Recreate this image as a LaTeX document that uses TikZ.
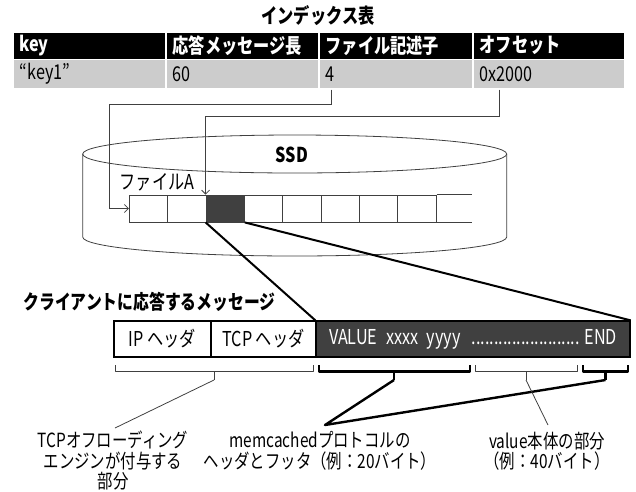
\documentclass[tikz,border=0pt]{standalone}
\usepackage{fontspec}
\setmainfont{Noto Sans CJK JP}[FakeStretch=0.79]
\usetikzlibrary{calc,arrows.meta}
\definecolor{dk}{HTML}{404040}
\definecolor{lg}{HTML}{CCCCCC}
\begin{document}
\begin{tikzpicture}[x=1pt,y=-1pt,
  every node/.style={font=\fontsize{20.5}{22}\selectfont},
  bfnt/.style={font=\fontsize{20.5}{22}\selectfont\bfseries},
  hcell/.style={draw=white, line width=1.5pt, fill=black, text=white, bfnt,
    minimum height=27.5pt, inner xsep=7pt, inner ysep=0pt, anchor=north west, align=left},
  dcell/.style={draw=white, line width=1.5pt, fill=lg, text=black,
    minimum height=29.5pt, inner xsep=7pt, inner ysep=0pt, anchor=north west, align=left},
  cyl/.style={draw=dk, line width=0.8pt},
  scell/.style={draw=dk, line width=0.8pt, minimum width=38.35pt, minimum height=27pt, inner sep=0pt},
  conn/.style={draw=dk, line width=0.8pt},
  arr/.style={-{Straight Barb[length=4pt,width=8pt]}},
  thickln/.style={draw=black, line width=2pt},
  mbox/.style={draw=black, line width=1.3pt, minimum height=36pt, inner sep=0pt},
  bthin/.style={draw=dk, line width=0.8pt, line join=round},
  bthick/.style={draw=black, line width=2.4pt, line join=round},
  lbl/.style={align=center, inner sep=0pt, font=\fontsize{19.5}{20.5}\selectfont}
]
\useasboundingbox (0,0) rectangle (636,491);

% ---- index table ----
\node[bfnt] (title) at (318,16) {インデックス表};
\node[hcell, text width=139pt] (h1) at (12,31) {key};
\node[hcell, text width=139pt] (h2) at (165,31) {応答メッセージ長};
\node[hcell, text width=140pt] (h3) at (318,31) {ファイル記述子};
\node[hcell, text width=138pt] (h4) at (472,31) {オフセット};
\node[dcell, text width=139pt] (d1) at (12,58.5) {“key1”};
\node[dcell, text width=139pt] (d2) at (165,58.5) {60};
\node[dcell, text width=140pt] (d3) at (318,58.5) {4};
\node[dcell, text width=138pt] (d4) at (472,58.5) {0x2000};

% ---- SSD cylinder ----
\draw[cyl] (82.7,154) -- (82.7,237) arc[start angle=180, end angle=360, x radius=212pt, y radius=19pt] -- (506.7,154);
\draw[cyl] (294.7,154) ellipse [x radius=212pt, y radius=19pt];
\node[bfnt] (ssd) at (292,155) {SSD};
\node[fill=white, inner sep=1.5pt] (fa) at (157,182) {ファイルA};

% ---- file strip ----
\foreach \i in {1,...,8}{
  \node[scell] (cell\i) at ({129.3+38.35*(\i-0.5)},208.5) {};
}
\node[scell, fill=dk] at (cell3) {};
\draw[conn] (cell8.north east) -- ++(35,0);
\draw[conn] (cell8.south east) -- ++(35,0);

% ---- connectors from the table ----
\draw[conn, arr] ([xshift=13pt]d3.south west) -- ++(0,15) -| ([xshift=-20pt]cell1.west) -- (cell1.west);
\draw[conn, arr] ([xshift=27pt]d4.south west) -- ++(0,27) -| (cell3.north west);

% ---- message ----
\node[anchor=west, font=\fontsize{20}{22}\selectfont\bfseries] (msgt) at (20,302) {クライアントに応答するメッセージ};
\node[mbox, fill=white, minimum width=97pt] (ip) at (162.5,339) {IP ヘッダ};
\node[mbox, fill=white, minimum width=105pt] (tcp) at (263.5,339) {TCP ヘッダ};
\node[mbox, fill=dk, text=white, minimum width=314pt] (val) at (473,339)
  {\makebox[288pt][l]{VALUE\hspace{5pt} xxxx\hspace{5pt} yyyy\hfill........................ END}};

\draw[thickln] (cell3.south west) -- (val.north west);
\draw[thickln] (cell3.south east) -- (val.north east);

% ---- brackets ----
\draw[bthin] (115,365) -- (115,371.5) -- (313,371.5) -- (313,365);
\draw[bthin] (214,371.5) -- (214,380) coordinate (b1);
\draw[bthick] (319,365) -- (319,371.5) -- (470,371.5) -- (470,365);
\draw[bthick] (394,371.5) -- (394,380) coordinate (b2);
\draw[bthin] (475,365) -- (475,371.5) -- (577,371.5) -- (577,365);
\draw[bthin] (526,371.5) -- (526,380) coordinate (b3);
\draw[bthick] (583,365) -- (583,371.5) -- (628,371.5) -- (628,365);
\draw[bthick] (605.5,371.5) -- (605.5,380) coordinate (b4);

% ---- labels ----
\node[lbl, anchor=south] (tcpl) at (113,490.5) {TCPオフローディング\\エンジンが付与する\\部分};
\node[lbl] (memc) at (320,451) {memcachedプロトコルの\\ヘッダとフッタ（例：20バイト）};
\node[lbl] (valn) at (547,451) {value本体の部分\\（例：40バイト）};
\coordinate (tcpE) at (115,428);
\coordinate (memE) at (325,425);
\coordinate (valE) at (548,425);
\draw[conn] (b1) -- (tcpE);
\draw[thickln, line width=2.4pt, line join=round] (b2) -- (memE) -- (b4);
\draw[conn] (b3) -- (valE);
\end{tikzpicture}
\end{document}
